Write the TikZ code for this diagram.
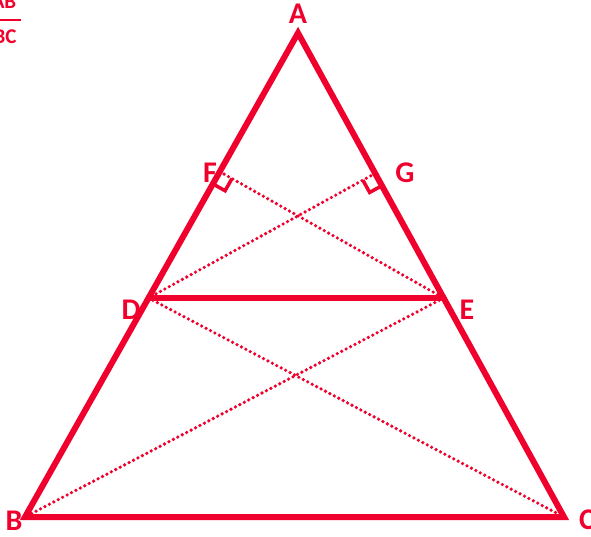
\documentclass[tikz,border=0pt]{standalone}
\usepackage{fontspec}
\setmainfont{Carlito}
\usetikzlibrary{calc}
\definecolor{ink}{RGB}{240,0,45}
\begin{document}
\begin{tikzpicture}[x=1pt,y=-1pt,
  solidline/.style={draw=ink,line width=6pt,line join=miter,line cap=round},
  dotline/.style={draw=ink,line width=3.6pt,line cap=round,dash pattern=on 0pt off 5pt},
  ralabel/.style={text=ink,font=\bfseries\fontsize{30}{30}\selectfont,inner sep=0pt},
  rmark/.style={draw=ink,line width=3.5pt}]
\useasboundingbox (0,0) rectangle (591,537);
\clip (0,0) rectangle (591,537);
\fill[white] (0,0) rectangle (591,537);
\coordinate (A) at (298,33);
\coordinate (B) at (25,517);
\coordinate (C) at (564,517);
\coordinate (D) at ($(A)!0.5475!(B)$);
\coordinate (E) at ($(A)!0.5475!(C)$);
\coordinate (F) at ($(A)!(E)!(B)$);
\coordinate (G) at ($(A)!(D)!(C)$);
% dotted lines
\draw[dotline] (F) -- (E);
\draw[dotline] (G) -- (D);
\draw[dotline] (D) -- (C);
\draw[dotline] (E) -- (B);
% triangle
\draw[solidline] (A) -- (B) -- (C) -- cycle;
\draw[solidline] (D) -- (E);
% right angle marks
\draw[rmark] ($(F)!14pt!(B)$) -- ($($(F)!14pt!(B)$)+($(F)!14pt!(E)$)-(F)$) -- ($(F)!14pt!(E)$);
\draw[rmark] ($(G)!14pt!(C)$) -- ($($(G)!14pt!(C)$)+($(G)!14pt!(D)$)-(G)$) -- ($(G)!14pt!(D)$);
% labels
\node[ralabel] (lA) at (298,14) {A};
\node[ralabel] (lF) at (210,173) {F};
\node[ralabel] (lG) at (405,173) {G};
\node[ralabel] (lD) at (131,310) {D};
\node[ralabel] (lE) at (467,310) {E};
\node[ralabel] (lB) at (14,521) {B};
\node[ralabel] (lC) at (587,520) {C};
% cut-off fraction
\node[text=ink,font=\bfseries\fontsize{21}{21}\selectfont,inner sep=0pt] (fn) at (4,2) {AB};
\node[text=ink,font=\bfseries\fontsize{21}{21}\selectfont,inner sep=0pt] (fd) at (5,37) {BC};
\draw[ink,line width=2.5pt] (-15,20) -- (21,20);
\end{tikzpicture}
\end{document}
